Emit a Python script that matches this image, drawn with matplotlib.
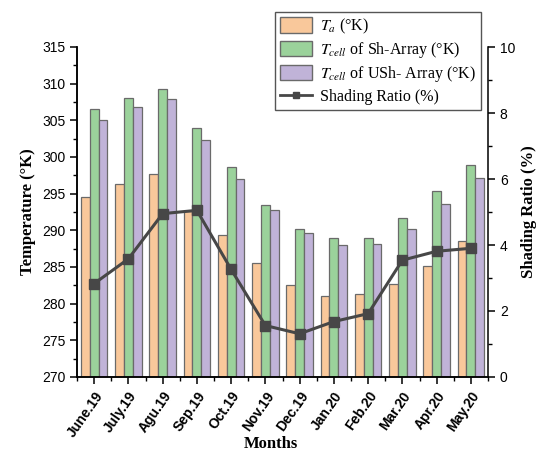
import matplotlib
matplotlib.use("Agg")
import matplotlib.pyplot as plt
import numpy as np
from matplotlib.patches import Patch
from matplotlib.lines import Line2D

months = ["June.19", "July.19", "Agu.19", "Sep.19", "Oct.19", "Nov.19",
          "Dec.19", "Jan.20", "Feb.20", "Mar.20", "Apr.20", "May.20"]
t_ambient = [294.5, 296.3, 297.7, 292.6, 289.4, 285.5,
             282.6, 281.0, 281.3, 282.7, 285.1, 288.5]
t_cell_sh = [306.6, 308.1, 309.3, 303.9, 298.7, 293.5,
             290.2, 288.9, 288.9, 291.7, 295.3, 298.9]
t_cell_ush = [305.1, 306.8, 307.9, 302.3, 297.0, 292.8,
              289.7, 288.0, 288.1, 290.2, 293.6, 297.2]
shading_ratio = [2.83, 3.58, 4.95, 5.05, 3.26, 1.56,
                 1.31, 1.68, 1.92, 3.54, 3.81, 3.90]

c_orange = "#F9C89B"
c_green = "#9BD29B"
c_purple = "#C0B3D8"
c_edge = "#6A6A6A"
c_line = "#474747"

plt.rcParams["mathtext.fontset"] = "stix"
sans = "Liberation Sans"
serif = "Liberation Serif"

fig = plt.figure(figsize=(5.40, 4.53), dpi=100)
ax = fig.add_axes([77 / 540, 1 - 377 / 453, (488 - 77) / 540, (377 - 47) / 453])
ax2 = ax.twinx()

x = np.arange(len(months))
w = 0.26
ax.bar(x - w, t_ambient, w, color=c_orange, edgecolor=c_edge, linewidth=0.9, zorder=2)
ax.bar(x, t_cell_sh, w, color=c_green, edgecolor=c_edge, linewidth=0.9, zorder=2)
ax.bar(x + w, t_cell_ush, w, color=c_purple, edgecolor=c_edge, linewidth=0.9, zorder=2)

ax.set_ylim(270, 315)
ax.set_xlim(-0.5, len(months) - 0.5)
ax.set_yticks(np.arange(270, 316, 5))
ax.set_yticks(np.arange(270, 316, 2.5), minor=True)
ax.set_xticks(x)
ax.set_xticks(np.arange(-0.5, len(months), 1), minor=True)
ax.set_xticklabels(months, rotation=55, ha="right", rotation_mode="anchor",
                   fontfamily=sans, fontweight="bold", fontsize=10)
for lab in ax.get_yticklabels():
    lab.set_fontfamily(sans)
    lab.set_fontsize(10)

ax2.plot(x, shading_ratio, color=c_line, linewidth=2.2, marker="s",
         markersize=6.5, zorder=5)
ax2.set_ylim(0, 10)
ax2.set_yticks(np.arange(0, 11, 2))
ax2.set_yticks(np.arange(0, 11, 1), minor=True)
for lab in ax2.get_yticklabels():
    lab.set_fontfamily(sans)
    lab.set_fontsize(10)

for a in (ax, ax2):
    a.spines["top"].set_visible(False)
    for s in a.spines.values():
        s.set_linewidth(1.1)
    a.tick_params(which="major", length=5, width=1.1, direction="out")
    a.tick_params(which="minor", length=3, width=1.0, direction="out")
ax.spines["right"].set_visible(False)

ax.set_ylabel("Temperature (°K)", fontfamily=serif, fontweight="bold", fontsize=12)
ax2.set_ylabel("Shading Ratio (%)", fontfamily=serif, fontweight="bold", fontsize=12)
fig.text(271 / 540, 1 - 444 / 453, "Months", ha="center", va="center",
         fontfamily=serif, fontweight="bold", fontsize=12)

handles = [
    Patch(facecolor=c_orange, edgecolor=c_edge),
    Patch(facecolor=c_green, edgecolor=c_edge),
    Patch(facecolor=c_purple, edgecolor=c_edge),
    Line2D([], [], color=c_line, linewidth=2, marker="s", markersize=5),
]
labels = [r"$T_a$ (°K)",
          r"$T_{cell}$ of Sh-Array (°K)",
          r"$T_{cell}$ of USh- Array (°K)",
          "Shading Ratio (%)"]
leg = fig.legend(handles, labels, loc="upper left",
                 bbox_to_anchor=(275 / 540, 1 - 12 / 453),
                 prop={"family": serif, "size": 11.5},
                 frameon=True, fancybox=False, edgecolor="#555555",
                 framealpha=1, borderpad=0.3, labelspacing=0.25,
                 handlelength=2.0, handleheight=1.1, handletextpad=0.5,
                 borderaxespad=0)
leg.get_frame().set_linewidth(1.0)

fig.savefig("out.png", dpi=100)
